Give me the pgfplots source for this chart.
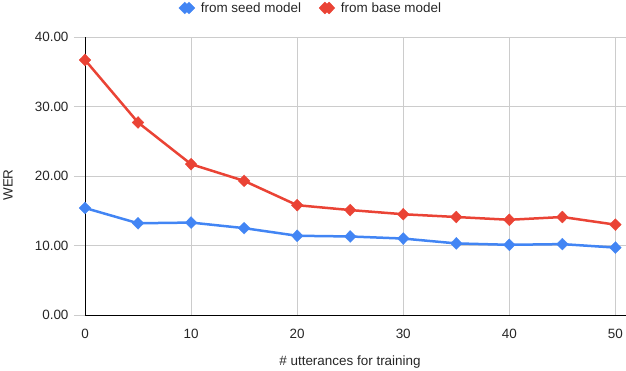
\documentclass[border=0pt]{standalone}
\usepackage{pgfplots}
\pgfplotsset{compat=1.18}
\usepackage{fontspec}
\setmainfont{Liberation Sans}
\definecolor{gblue}{HTML}{4285F4}
\definecolor{gred}{HTML}{EA4335}
\definecolor{ggrid}{HTML}{CCCCCC}
\begin{document}
\begin{tikzpicture}[x=1bp,y=1bp]
\path[use as bounding box] (-85,-55) rectangle (541,315);
\begin{axis}[
  at={(0,0)}, anchor=origin,
  scale only axis, width=541bp, height=278bp,
  xmin=0, xmax=51, ymin=0, ymax=40,
  xtick={0,10,20,30,40,50}, ytick={0,10,20,30,40},
  axis x line=bottom, axis y line=left,
  axis line style={-, black, line width=0.8pt},
  grid=major, major grid style={ggrid, line width=0.8pt},
  xtick style={draw=none},
  ytick style={ggrid, line width=0.8pt},
  tick align=outside, major tick length=11bp,
  ticklabel style={font=\fontsize{13.5}{15}\selectfont, text=black!85},
  /pgf/number format/assume math mode=true,
  y tick label style={/pgf/number format/fixed, /pgf/number format/fixed zerofill, /pgf/number format/precision=2, xshift=-2bp},
  xticklabel style={yshift=0bp},
  clip=false,
  legend columns=2,
  legend style={draw=none, fill=none, at={(226bp,307bp)}, anchor=center,
    font=\fontsize{13.5}{15}\selectfont, text=black!85,
    /tikz/every odd column/.append style={column sep=4bp},
    /tikz/every even column/.append style={column sep=16bp}},
  legend image code/.code={\draw[draw=none] plot coordinates {(0cm,0cm)}; \path plot[mark repeat=1] coordinates {(0.15cm,0cm)};},
]
\addplot[gblue, line width=2.5bp, mark=diamond*, mark size=6bp, mark options={solid, fill=gblue, draw=gblue, line width=0.3pt, xscale=1.3}] coordinates {
(0,15.4) (5,13.2) (10,13.3) (15,12.5) (20,11.4) (25,11.3) (30,11.0) (35,10.3) (40,10.1) (45,10.2) (50,9.7)};
\addlegendentry{from seed model}
\addplot[gred, line width=2.5bp, mark=diamond*, mark size=6bp, mark options={solid, fill=gred, draw=gred, line width=0.3pt, xscale=1.3}] coordinates {
(0,36.7) (5,27.7) (10,21.7) (15,19.3) (20,15.8) (25,15.1) (30,14.5) (35,14.1) (40,13.7) (45,14.1) (50,13.0)};
\addlegendentry{from base model}
\end{axis}
\node[rotate=90, font=\fontsize{13.5}{15}\selectfont, text=black!85] at (-77,130) {WER};
\node[font=\fontsize{13.5}{15}\selectfont, text=black!85] at (265,-47) {\# utterances for training};
\end{tikzpicture}
\end{document}
